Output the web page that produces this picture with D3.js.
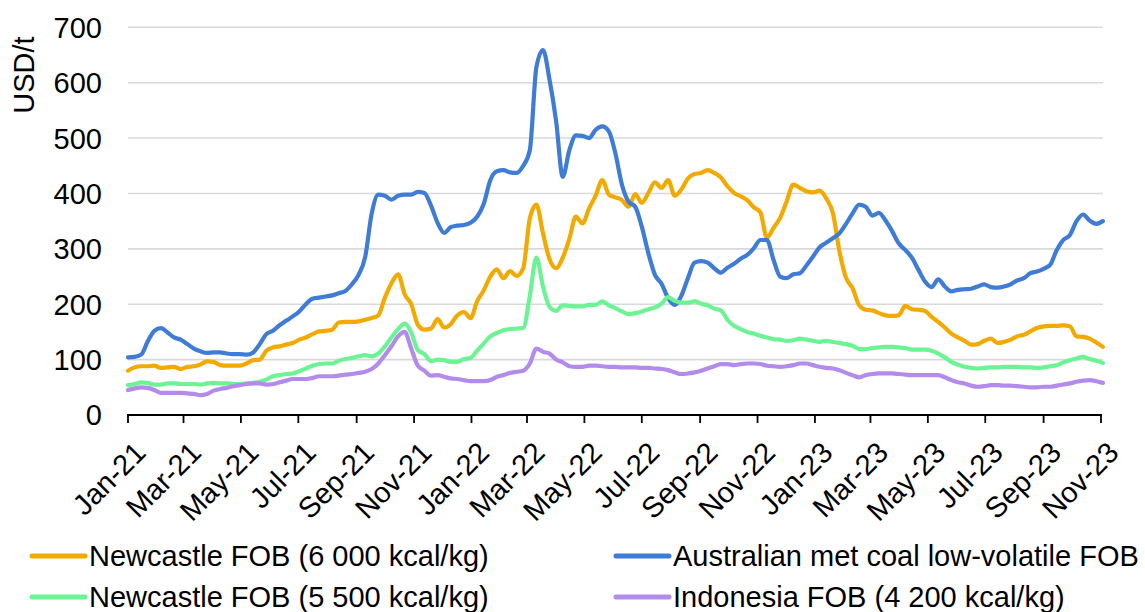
<!DOCTYPE html>
<html>
<head>
<meta charset="utf-8">
<script src="https://cdn.jsdelivr.net/npm/d3@7"></script>
<style>
  html, body { margin: 0; padding: 0; background: #fff; }
  svg { display: block; font-family: "Liberation Sans", Arial, sans-serif; }
</style>
</head>
<body>
<svg id="chart" width="1145" height="612"></svg>
<script>
// Weekly coal prices, USD/t, one value per Friday from 1 Jan 2021 to 3 Nov 2023
const firstWeek = new Date(2021, 0, 1);
const lastWeek = new Date(2023, 10, 3);

const seriesNames = [
  "Newcastle FOB (6 000 kcal/kg)",
  "Australian met coal low-volatile FOB",
  "Newcastle FOB (5 500 kcal/kg)",
  "Indonesia FOB (4 200 kcal/kg)"
];

const newcastle6000 = [
  80,86,88,88,89,85,86,87,83,87,88,91,97,96,90,89,89,89,93,99,
  100,116,122,124,127,130,136,140,146,151,152,154,167,168,168,169,172,175,180,212,
  238,254,218,200,163,154,156,173,158,164,180,186,175,205,225,250,263,247,260,251,
  265,355,380,328,281,265,284,318,358,346,373,396,424,398,393,388,376,399,383,401,
  420,410,424,396,407,427,435,437,442,437,429,413,401,395,388,375,366,320,338,356,
  386,416,410,404,402,405,391,365,296,248,229,198,190,189,184,180,179,180,197,191,
  190,188,177,168,158,147,140,134,127,128,134,138,130,132,136,142,145,151,157,160,
  161,161,162,160,142,141,138,131,123
];

const metCoal = [
  104,105,109,133,152,157,149,140,136,128,120,115,112,113,113,111,110,110,109,113,
  128,146,152,162,170,178,187,200,210,212,214,216,220,224,236,253,285,364,398,396,
  389,396,398,398,403,401,378,347,329,339,342,343,347,358,381,424,440,442,438,437,
  450,478,628,659,605,530,430,478,505,504,500,515,521,512,472,415,385,376,340,292,
  253,237,211,199,215,247,275,278,275,265,257,266,273,282,289,301,316,316,280,250,
  247,254,256,270,286,303,311,319,328,345,364,380,376,360,365,351,332,310,298,284,
  262,241,231,245,232,223,226,227,228,232,236,231,230,232,236,243,247,256,259,264,
  271,298,316,325,350,362,351,345,350
];

const newcastle5500 = [
  54,56,59,58,55,55,57,57,56,56,56,55,57,58,57,57,56,56,57,58,
  60,64,70,72,74,75,79,84,89,92,93,93,98,101,103,106,108,106,111,124,
  140,155,165,149,117,110,97,100,99,96,96,101,103,116,129,142,148,153,155,156,
  157,215,284,232,195,188,198,197,196,196,199,199,205,198,193,187,182,184,187,191,
  194,201,213,206,203,203,205,201,198,192,189,172,161,155,150,147,143,140,137,136,
  134,135,138,136,134,132,134,132,130,128,125,119,119,121,122,123,123,122,121,118,
  118,118,116,111,104,96,91,87,85,84,85,86,86,87,87,87,86,86,85,86,
  88,90,95,99,102,105,101,98,94
];

const indonesia4200 = [
  45,48,50,49,45,40,40,40,40,39,38,36,38,44,47,49,52,54,56,57,
  57,55,56,59,62,65,65,65,67,70,70,70,71,73,74,76,78,83,93,108,
  124,142,150,120,89,80,71,72,69,66,65,63,61,61,61,63,69,72,76,78,
  80,93,120,114,111,100,95,88,87,87,89,89,88,87,87,86,86,86,85,85,
  84,83,81,77,74,75,77,80,84,88,92,92,90,92,93,93,92,89,88,87,
  88,90,93,93,90,87,85,84,81,76,72,68,72,74,75,75,75,74,73,72,
  72,72,72,72,68,63,59,57,53,51,52,54,54,53,53,52,51,50,50,51,
  51,53,55,57,60,62,63,61,58
];

const seriesColors = ["#f2a900", "#3f7cd6", "#6cf394", "#b28bec"];
const yTicks = [0, 100, 200, 300, 400, 500, 600, 700];
const yLabel = "USD/t";

const weeks = d3.timeFriday.range(firstWeek, d3.timeDay.offset(lastWeek, 1));
const allSeries = [newcastle6000, metCoal, newcastle5500, indonesia4200];

const svg = d3.select("#chart");

const x = d3.scaleTime()
  .domain([new Date(2021, 0, 1), new Date(2023, 10, 1)])
  .range([128, 1101]);
const y = d3.scaleLinear().domain([0, 700]).range([415, 27.3]);

// horizontal gridlines
svg.append("g")
  .selectAll("line")
  .data(yTicks.filter(d => d > 0))
  .join("line")
  .attr("x1", 128).attr("x2", 1103)
  .attr("y1", d => y(d)).attr("y2", d => y(d))
  .attr("stroke", "#d9d9d9").attr("stroke-width", 1.6);

// y tick labels
svg.append("g")
  .selectAll("text")
  .data(yTicks)
  .join("text")
  .attr("x", 102)
  .attr("y", d => y(d))
  .attr("dy", "0.36em")
  .attr("text-anchor", "end")
  .attr("font-size", 29)
  .attr("fill", "#000")
  .text(d => d);

// y axis title
svg.append("text")
  .attr("transform", "translate(34,75) rotate(-90)")
  .attr("text-anchor", "middle")
  .attr("font-size", 29)
  .attr("fill", "#000")
  .text(yLabel);

// series lines
const line = d3.line()
  .x((d, i) => x(weeks[i]))
  .y(d => y(d))
  .curve(d3.curveMonotoneX);

svg.append("g")
  .selectAll("path")
  .data(allSeries)
  .join("path")
  .attr("d", d => line(d))
  .attr("fill", "none")
  .attr("stroke", (d, i) => seriesColors[i])
  .attr("stroke-width", 4.2)
  .attr("stroke-linejoin", "round")
  .attr("stroke-linecap", "round");

// x axis
const monthTicks = d3.timeMonth.every(2).range(new Date(2021, 0, 1), new Date(2023, 10, 2));
const fmt = d3.timeFormat("%b-%y");
const xAxis = svg.append("g").attr("transform", "translate(0,415)");
xAxis.append("line")
  .attr("x1", 127).attr("x2", 1102)
  .attr("stroke", "#000").attr("stroke-width", 1.8);
xAxis.selectAll(".tick")
  .data(monthTicks)
  .join("line")
  .attr("class", "tick")
  .attr("x1", d => x(d)).attr("x2", d => x(d))
  .attr("y1", 0).attr("y2", 8)
  .attr("stroke", "#000").attr("stroke-width", 1.8);
xAxis.selectAll(".lbl")
  .data(monthTicks)
  .join("text")
  .attr("class", "lbl")
  .attr("transform", d => `translate(${x(d) + 5},25) rotate(-45)`)
  .attr("text-anchor", "end")
  .attr("dy", "0.7em")
  .attr("font-size", 29)
  .attr("fill", "#000")
  .text(d => fmt(d));

// legend, two columns by two rows
const legendPos = [[30, 556], [614, 556], [30, 597], [614, 597]];
const legend = svg.append("g")
  .selectAll("g")
  .data(seriesNames)
  .join("g")
  .attr("transform", (d, i) => `translate(${legendPos[i][0]},${legendPos[i][1]})`);
legend.append("line")
  .attr("x1", 2).attr("x2", 55)
  .attr("stroke", (d, i) => seriesColors[i])
  .attr("stroke-width", 5)
  .attr("stroke-linecap", "round");
legend.append("text")
  .attr("x", 59)
  .attr("dy", "0.36em")
  .attr("font-size", 29)
  .attr("fill", "#000")
  .text(d => d);
</script>
</body>
</html>
